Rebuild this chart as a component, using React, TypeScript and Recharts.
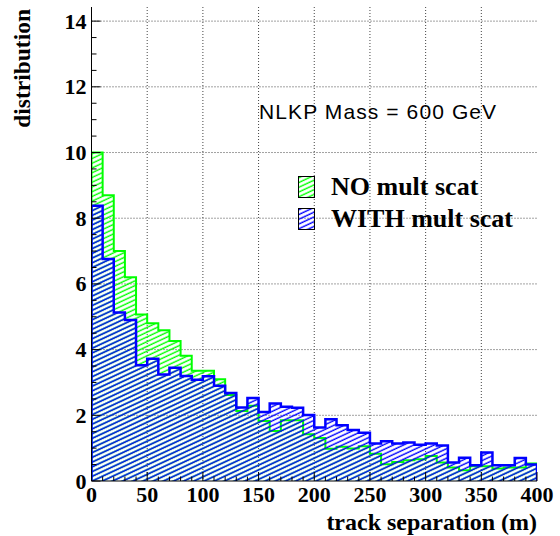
import React from 'react';
import { ComposedChart, Area, XAxis, YAxis, CartesianGrid, Label } from 'recharts';

// bin lower edges (m), width 10
const binEdges = [
  0, 10, 20, 30, 40, 50, 60, 70, 80, 90, 100, 110, 120, 130, 140, 150, 160, 170, 180, 190,
  200, 210, 220, 230, 240, 250, 260, 270, 280, 290, 300, 310, 320, 330, 340, 350, 360, 370, 380, 390,
];
const xMax = 400;

const noMultScat = [
  10.0, 8.7, 7.0, 6.2, 5.07, 4.8, 4.59, 4.26, 3.81, 3.36, 3.36, 3.1, 2.62, 2.13, 2.29, 1.83, 1.52, 1.85, 1.85, 1.42,
  1.31, 0.98, 1.04, 0.99, 1.06, 0.83, 0.51, 0.58, 0.63, 0.66, 0.76, 0.56, 0.41, 0.33, 0.45, 0.45, 0.38, 0.41, 0.41, 0.53,
];
const withMultScat = [
  8.38, 6.76, 5.13, 4.9, 3.52, 3.72, 3.24, 3.45, 3.2, 3.08, 3.19, 2.9, 2.68, 2.24, 2.53, 2.1, 2.36, 2.26, 2.23, 2.01,
  1.63, 1.88, 1.7, 1.55, 1.47, 1.14, 1.21, 1.14, 1.17, 1.1, 1.14, 1.08, 0.56, 0.71, 0.48, 0.87, 0.48, 0.48, 0.7, 0.5,
];

const xTicks = [
  0, 10, 20, 30, 40, 50, 60, 70, 80, 90, 100, 110, 120, 130, 140, 150, 160, 170, 180, 190, 200,
  210, 220, 230, 240, 250, 260, 270, 280, 290, 300, 310, 320, 330, 340, 350, 360, 370, 380, 390, 400,
];
const xGrid = [50, 100, 150, 200, 250, 300, 350];
const yTicks = [
  0, 0.5, 1, 1.5, 2, 2.5, 3, 3.5, 4, 4.5, 5, 5.5, 6, 6.5, 7, 7.5, 8, 8.5, 9, 9.5,
  10, 10.5, 11, 11.5, 12, 12.5, 13, 13.5, 14,
];
const yGrid = [2, 4, 6, 8, 10, 12, 14];
const yMax = 14.43;

const legendItems = [
  { name: 'NO mult scat', pattern: 'hatchGreen' },
  { name: 'WITH mult scat', pattern: 'hatchBlue' },
];

const GREEN = '#00ff00';
const BLUE = '#0000ff';
const serif = '"Liberation Serif", "Times New Roman", serif';

// step outline: closed at both ends down to zero
const histData = [
  { x: binEdges[0], no: 0, with: 0 },
  ...binEdges.map((e, i) => ({ x: e, no: noMultScat[i], with: withMultScat[i] })),
  { x: xMax, no: noMultScat[noMultScat.length - 1], with: withMultScat[withMultScat.length - 1] },
  { x: xMax, no: 0, with: 0 },
];

const XTick = (props: any) => {
  const { x, y, payload } = props;
  const major = payload.value % 50 === 0;
  return (
    <g>
      <line x1={x} x2={x} y1={y} y2={y - (major ? 9 : 4.5)} stroke="#000" />
      {major && (
        <text x={x} y={y + 21} textAnchor="middle" fontFamily={serif} fontWeight="bold" fontSize={22} fill="#000">
          {payload.value}
        </text>
      )}
    </g>
  );
};

const YTick = (props: any) => {
  const { x, y, payload } = props;
  const major = payload.value % 2 === 0;
  return (
    <g>
      <line x1={x} x2={x + (major ? 9 : 5)} y1={y} y2={y} stroke="#000" />
      {major && (
        <text x={x - 5} y={y + 7.5} textAnchor="end" fontFamily={serif} fontWeight="bold" fontSize={22} fill="#000">
          {payload.value}
        </text>
      )}
    </g>
  );
};

const Swatch = ({ pattern }: { pattern: string }) => (
  <svg width={17} height={22} style={{ display: 'block' }}>
    <rect x={0.5} y={0.5} width={16} height={21} fill={`url(#${pattern})`} stroke="#000" strokeWidth={1} />
  </svg>
);

export default function App() {
  return (
    <div style={{ position: 'absolute', left: 0, top: 0, width: 560, height: 536, background: '#fff' }}>
      <ComposedChart width={560} height={536} data={histData} margin={{ top: 7, right: 23, bottom: 0, left: 0 }}>
        <defs>
          <pattern id="hatchGreen" patternUnits="userSpaceOnUse" width={10} height={4.3} patternTransform="rotate(-25)">
            <line x1={0} y1={2} x2={10} y2={2} stroke={GREEN} strokeWidth={1.4} />
          </pattern>
          <pattern id="hatchBlue" patternUnits="userSpaceOnUse" width={10} height={4.3} patternTransform="rotate(-25)">
            <line x1={0} y1={2} x2={10} y2={2} stroke={BLUE} strokeWidth={1.4} />
          </pattern>
        </defs>
        <CartesianGrid
          horizontalValues={yGrid}
          verticalValues={xGrid}
          stroke="#444"
          strokeDasharray="1 2"
        />
        <XAxis
          dataKey="x"
          type="number"
          domain={[0, xMax]}
          ticks={xTicks}
          interval={0}
          height={55}
          tickSize={0}
          tickMargin={0}
          tickLine={false}
          axisLine={{ stroke: '#000' }}
          tick={<XTick />}
          allowDataOverflow
        >
          <Label
            content={() => (
              <text x={537} y={530} textAnchor="end" fontFamily={serif} fontWeight="bold" fontSize={24} fill="#000">
                track separation (m)
              </text>
            )}
          />
        </XAxis>
        <XAxis xAxisId="top" orientation="top" type="number" domain={[0, xMax]} height={0} tick={false} tickLine={false} axisLine={{ stroke: '#000' }} />
        <YAxis
          type="number"
          domain={[0, yMax]}
          ticks={yTicks}
          interval={0}
          width={91.5}
          tickSize={0}
          tickMargin={0}
          tickLine={false}
          axisLine={{ stroke: '#000' }}
          tick={<YTick />}
          allowDataOverflow
        >
          <Label
            content={() => (
              <text
                transform="translate(30, 9) rotate(-90)"
                textAnchor="end"
                fontFamily={serif}
                fontWeight="bold"
                fontSize={23.5}
                fill="#000"
              >
                distribution
              </text>
            )}
          />
        </YAxis>
        <YAxis yAxisId="right" orientation="right" type="number" domain={[0, yMax]} width={0} tick={false} tickLine={false} axisLine={{ stroke: '#000' }} />
        <Area
          type="stepAfter"
          dataKey="no"
          name="NO mult scat"
          stroke={GREEN}
          strokeWidth={2}
          fill="url(#hatchGreen)"
          fillOpacity={1}
          isAnimationActive={false}
          dot={false}
          activeDot={false}
        />
        <Area
          type="stepAfter"
          dataKey="with"
          name="WITH mult scat"
          stroke={BLUE}
          strokeWidth={2.5}
          fill="url(#hatchBlue)"
          fillOpacity={1}
          isAnimationActive={false}
          dot={false}
          activeDot={false}
        />
      </ComposedChart>
      <div
        style={{
          position: 'absolute',
          left: 298,
          top: 171,
          fontFamily: serif,
          fontWeight: 'bold',
          fontSize: 26,
          color: '#000',
        }}
      >
        {legendItems.map((item) => (
          <div key={item.name} style={{ display: 'flex', alignItems: 'center', height: 32 }}>
            <Swatch pattern={item.pattern} />
            <span style={{ marginLeft: 16, whiteSpace: 'nowrap', lineHeight: '32px' }}>{item.name}</span>
          </div>
        ))}
      </div>
      <div
        style={{
          position: 'absolute',
          left: 259,
          top: 100,
          fontFamily: '"Liberation Sans", Arial, sans-serif',
          fontSize: 21,
          letterSpacing: 1.1,
          color: '#000',
          whiteSpace: 'nowrap',
        }}
      >
        NLKP Mass = 600 GeV
      </div>
    </div>
  );
}
